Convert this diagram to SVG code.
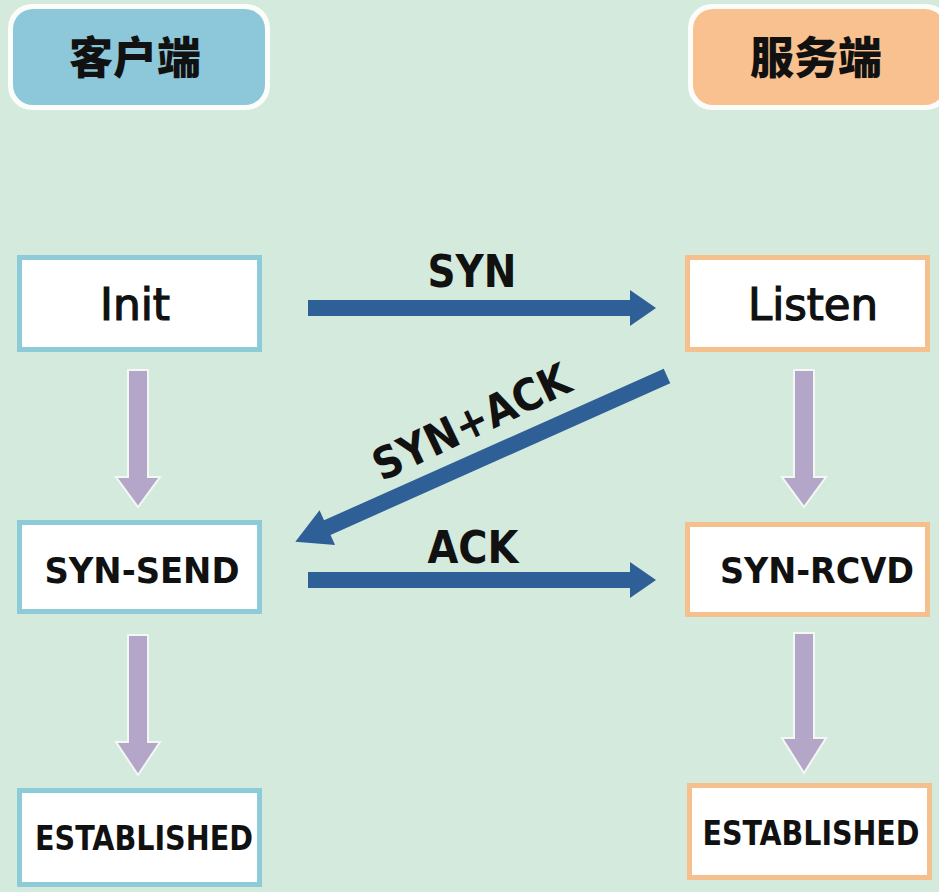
<svg xmlns="http://www.w3.org/2000/svg" width="939" height="892" viewBox="0 0 939 892">
<style>
.bg{fill:#d4eadc}
.hdr-outer{fill:#fbfdfb}
.box-c{fill:#ffffff;stroke:#8ecbd9;stroke-width:5}
.box-s{fill:#ffffff;stroke:#f6c08e;stroke-width:5}
.lbl{font-family:"DejaVu Sans Condensed","DejaVu Sans","Liberation Sans",sans-serif;font-weight:bold;fill:#111;text-anchor:middle}
.thin{font-weight:normal;stroke:#111;stroke-width:1.2}
.cjk{font-family:"Noto Sans CJK SC","Noto Sans CJK JP",sans-serif;font-weight:900;fill:#111;text-anchor:middle;font-size:44px}
.blue{fill:#2f5f97}
.purple{fill:#b3a6c9;stroke:#f4f8f4;stroke-width:2}
</style>
<rect class="bg" x="0" y="0" width="939" height="892"/>

<g id="header-client">
<rect class="hdr-outer" x="8" y="4" width="262" height="106" rx="24"/>
<rect x="13" y="9" width="252" height="96" rx="20" fill="#8dc8da"/>
<text class="cjk" x="135" y="74">客户端</text>
</g>
<g id="header-server">
<rect class="hdr-outer" x="688" y="4" width="262" height="106" rx="24"/>
<rect x="693" y="9" width="252" height="96" rx="20" fill="#f9c190"/>
<text class="cjk" x="816" y="74">服务端</text>
</g>

<g id="node-init">
<rect class="box-c" x="19.5" y="257.5" width="240" height="92"/>
<text class="lbl thin" x="135" y="320" font-size="45" textLength="70" lengthAdjust="spacingAndGlyphs">Init</text>
</g>
<g id="node-syn-send">
<rect class="box-c" x="19.5" y="522.5" width="240" height="89"/>
<text class="lbl" x="142" y="583" font-size="36" textLength="195" lengthAdjust="spacingAndGlyphs">SYN-SEND</text>
</g>
<g id="node-client-established">
<rect class="box-c" x="19.5" y="790.5" width="240" height="94"/>
<text class="lbl" x="144" y="850" font-size="34" textLength="218" lengthAdjust="spacingAndGlyphs">ESTABLISHED</text>
</g>

<g id="node-listen">
<rect class="box-s" x="687.5" y="257.5" width="240" height="92"/>
<text class="lbl thin" x="813" y="320" font-size="45" textLength="130" lengthAdjust="spacingAndGlyphs">Listen</text>
</g>
<g id="node-syn-rcvd">
<rect class="box-s" x="687.5" y="524.5" width="240" height="90"/>
<text class="lbl" x="817" y="583" font-size="36" textLength="194" lengthAdjust="spacingAndGlyphs">SYN-RCVD</text>
</g>
<g id="node-server-established">
<rect class="box-s" x="689.5" y="785.5" width="240" height="92"/>
<text class="lbl" x="811" y="845" font-size="34" textLength="217" lengthAdjust="spacingAndGlyphs">ESTABLISHED</text>
</g>

<g id="connectors">
<polygon class="purple" points="128,370 148,370 148,477 160,477 138,507 116,477 128,477"/>
<polygon class="purple" points="128,635 148,635 148,742 160,742 138,775 116,742 128,742"/>
<polygon class="purple" points="794,370 814,370 814,477 826,477 804,507 782,477 794,477"/>
<polygon class="purple" points="794,633 814,633 814,738 826,738 804,773 782,738 794,738"/>

<polygon class="blue" points="308,300 630,300 630,290 656,308 630,326 630,316 308,316"/>
<polygon class="blue" points="308,572 630,572 630,562 656,580 630,598 630,588 308,588"/>
<polygon class="blue" transform="translate(667,376) rotate(155.95)" points="0,-8 372,-8 372,-19 407,0 372,19 372,8 0,8"/>

<text class="lbl" x="472" y="287" font-size="44" textLength="89" lengthAdjust="spacingAndGlyphs">SYN</text>
<text class="lbl" x="473" y="563" font-size="44" textLength="91" lengthAdjust="spacingAndGlyphs">ACK</text>
<text class="lbl" transform="translate(478,436) rotate(-25.5)" x="0" y="0" font-size="44" textLength="213" lengthAdjust="spacingAndGlyphs">SYN+ACK</text>
</g>
</svg>
